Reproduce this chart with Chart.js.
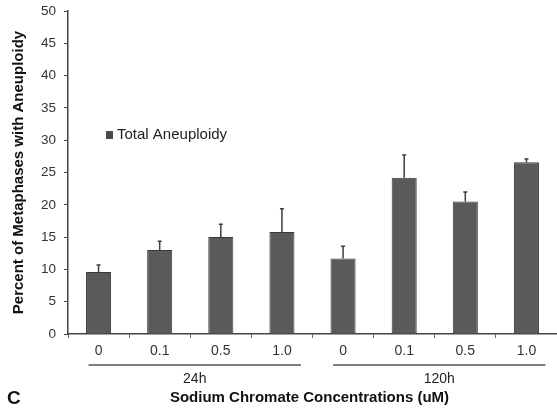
<!DOCTYPE html>
<html>
<head>
<meta charset="utf-8">
<script src="https://cdn.jsdelivr.net/npm/chart.js@4/dist/chart.umd.min.js"></script>
<style>
  html, body { margin: 0; padding: 0; background: #fff; }
  #wrap { width: 557px; height: 412px; }
</style>
</head>
<body>
<div id="wrap"><canvas id="myChart" width="557" height="412"></canvas></div>
<script>
// values
var concentrations = ["0", "0.1", "0.5", "1.0", "0", "0.1", "0.5", "1.0"];
var timeGroups = ["24h", "120h"];
var groupSize = 4;
var aneuploidy = [9.6, 13.0, 15.0, 15.8, 11.7, 24.2, 20.5, 26.6];
var aneuploidyErr = [1.1, 1.35, 2.0, 3.6, 1.9, 3.5, 1.5, 0.5];
var yMax = 50, yStep = 5;

var FONT = "'Liberation Sans', Arial, sans-serif";

// error bars (upper half only), group lines, legend, labels
var extras = {
	id: "extras",
	afterDatasetsDraw: function(chart) {
		var c = chart.ctx, y = chart.scales.y;
		var meta = chart.getDatasetMeta(0);
		c.save();
		c.strokeStyle = "#3d3d3d";
		c.lineWidth = 1.5;
		meta.data.forEach(function(bar, i) {
			var top = y.getPixelForValue(aneuploidy[i] + aneuploidyErr[i]);
			var base = y.getPixelForValue(aneuploidy[i]);
			c.beginPath();
			c.moveTo(bar.x, base);
			c.lineTo(bar.x, top);
			c.moveTo(bar.x - 2, top);
			c.lineTo(bar.x + 2, top);
			c.stroke();
		});
		c.restore();
	},
	afterDraw: function(chart) {
		var c = chart.ctx, x = chart.scales.x, area = chart.chartArea;
		c.save();
		// group underlines and labels
		timeGroups.forEach(function(g, k) {
			var x0 = x.getPixelForValue(k * groupSize) - 10;
			var x1 = x.getPixelForValue(k * groupSize + groupSize - 1) + 19;
			c.strokeStyle = "#555";
			c.lineWidth = 1.5;
			c.beginPath();
			c.moveTo(x0, 365);
			c.lineTo(x1, 365);
			c.stroke();
			c.fillStyle = "#222";
			c.font = "14px " + FONT;
			c.textAlign = "center";
			c.textBaseline = "middle";
			c.fillText(g, (x0 + x1) / 2, 379);
		});
		// x title
		c.font = "bold 15px " + FONT;
		c.fillStyle = "#111";
		c.textAlign = "center";
		c.fillText("Sodium Chromate Concentrations (uM)", (area.left + area.right) / 2 - 3, 398);
		// panel letter
		c.font = "bold 19px " + FONT;
		c.textAlign = "left";
		c.fillText("C", 7, 399);
		// legend
		c.fillStyle = "#4a4a4a";
		c.fillRect(area.left + 38, 131, 7, 8);
		c.fillStyle = "#222";
		c.font = "15px " + FONT;
		c.textAlign = "left";
		c.fillText("Total Aneuploidy", area.left + 49, 135);
		c.restore();
	}
};

var ctx = document.getElementById("myChart");
var myChart = new Chart(ctx, {
	type: "bar",
	data: {
		labels: concentrations,
		datasets: [{
			label: "Total Aneuploidy",
			data: aneuploidy,
			backgroundColor: "#5a5a5a",
			borderColor: "#3a3a3a",
			borderWidth: 1,
			categoryPercentage: 1,
			barPercentage: 0.41
		}]
	},
	options: {
		responsive: false,
		animation: false,
		layout: { padding: { top: 11, right: 0, left: 0, bottom: 0 } },
		plugins: {
			legend: { display: false },
			tooltip: { enabled: false }
		},
		scales: {
			x: {
				afterFit: function(s) { s.height = 78; s.paddingLeft = 0; s.paddingRight = 0; },
				border: { color: "#444", width: 1.5 },
				grid: { display: true, drawOnChartArea: false, tickLength: 4, color: "#666", offset: true },
				ticks: { color: "#333", font: { family: FONT, size: 14 }, padding: 5 }
			},
			y: {
				min: 0,
				max: yMax,
				afterFit: function(s) { s.width = 68; s.paddingTop = 0; s.paddingBottom = 0; },
				border: { color: "#444", width: 1.5 },
				grid: { display: true, drawOnChartArea: false, tickLength: 4, color: "#444" },
				ticks: { stepSize: yStep, color: "#333", font: { family: FONT, size: 13.5 }, padding: 8 },
				title: {
					display: true,
					text: "Percent of Metaphases with Aneuploidy",
					color: "#111",
					font: { family: FONT, size: 15, weight: "bold" },
					padding: { top: 10, bottom: 0 }
				}
			}
		}
	},
	plugins: [extras]
});
</script>
</body>
</html>
